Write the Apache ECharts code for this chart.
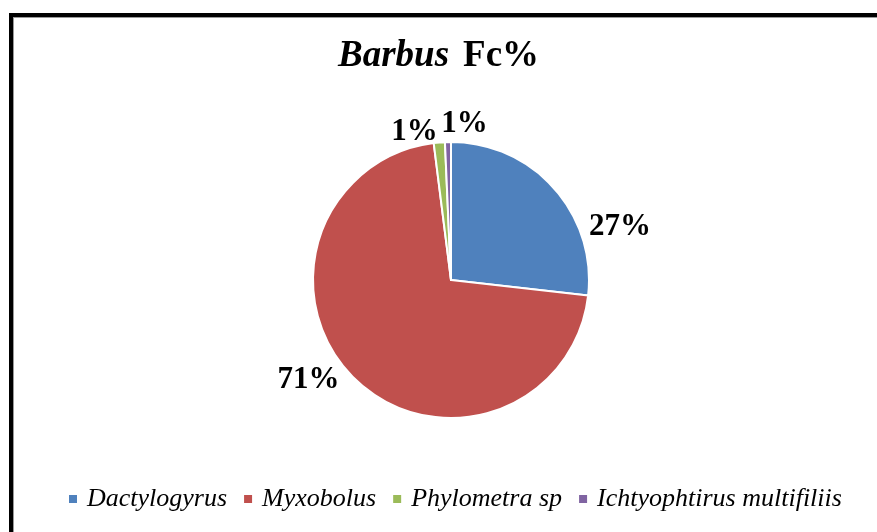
<!DOCTYPE html>
<html>
<head>
<meta charset="utf-8">
<script src="https://cdn.jsdelivr.net/npm/echarts@6/dist/echarts.min.js"></script>
<style>
  html, body { margin: 0; padding: 0; background: #fff; }
  #frame {
    position: absolute; left: 9px; top: 13px; width: 900px; height: 540px;
    border-left: 4px solid #000; border-top: 4px solid #000;
    box-shadow: inset 1px 1px 0 #999;
  }
  #chart { position: absolute; left: 0; top: 0; width: 877px; height: 532px; }
</style>
</head>
<body>
<div id="frame"></div>
<div id="chart"></div>
<script>
// parasites found on Barbus, share of frequency
const parasites = ['Dactylogyrus', 'Myxobolus', 'Phylometra sp', 'Ichtyophtirus multifiliis']
const fcValues = [26.8, 71.2, 1.3, 0.7]
const sliceColors = ['#4F81BD', '#C0504D', '#9BBB59', '#8064A2']

// nudges for the value labels (excel placed them "best fit")
const labelShift = [[20, 44], [0, -4], [8, -3], [49, -10]]

const chart = echarts.init(document.getElementById('chart'))

const pieData = parasites.map((name, i) => {
  return { name: name, value: fcValues[i], itemStyle: { color: sliceColors[i] } }
})

const option = {
  animation: false,
  title: {
    text: '{a|Barbus}{b|Fc%}',
    left: 333,
    top: 33,
    textStyle: {
      rich: {
        a: { fontFamily: 'Liberation Serif', fontSize: 37, fontStyle: 'italic', fontWeight: 'bold', color: '#000', padding: [0, 14, 0, 0] },
        b: { fontFamily: 'Liberation Serif', fontSize: 37, fontWeight: 'bold', color: '#000' }
      }
    }
  },
  legend: {
    data: parasites,
    left: 62,
    top: 481,
    icon: 'rect',
    itemWidth: 10,
    itemHeight: 10,
    itemGap: 15,
    textStyle: { fontFamily: 'Liberation Serif', fontSize: 26, fontStyle: 'italic', color: '#000', padding: [0, 0, 0, 4] }
  },
  series: [
    {
      type: 'pie',
      center: [451, 280],
      radius: 138,
      startAngle: 90,
      clockwise: true,
      avoidLabelOverlap: false,
      data: pieData,
      itemStyle: { borderColor: '#fff', borderWidth: 2 },
      label: {
        show: true,
        position: 'outside',
        formatter: (p) => Math.round(p.value) + '%',
        fontFamily: 'Liberation Serif',
        fontSize: 31,
        fontWeight: 'bold',
        color: '#000'
      },
      labelLine: { show: false, length: 8, length2: 4 },
      labelLayout: (params) => {
        const s = labelShift[params.dataIndex]
        return { dx: s[0], dy: s[1] }
      },
      emphasis: { disabled: true }
    }
  ]
}

chart.setOption(option)
</script>
</body>
</html>
